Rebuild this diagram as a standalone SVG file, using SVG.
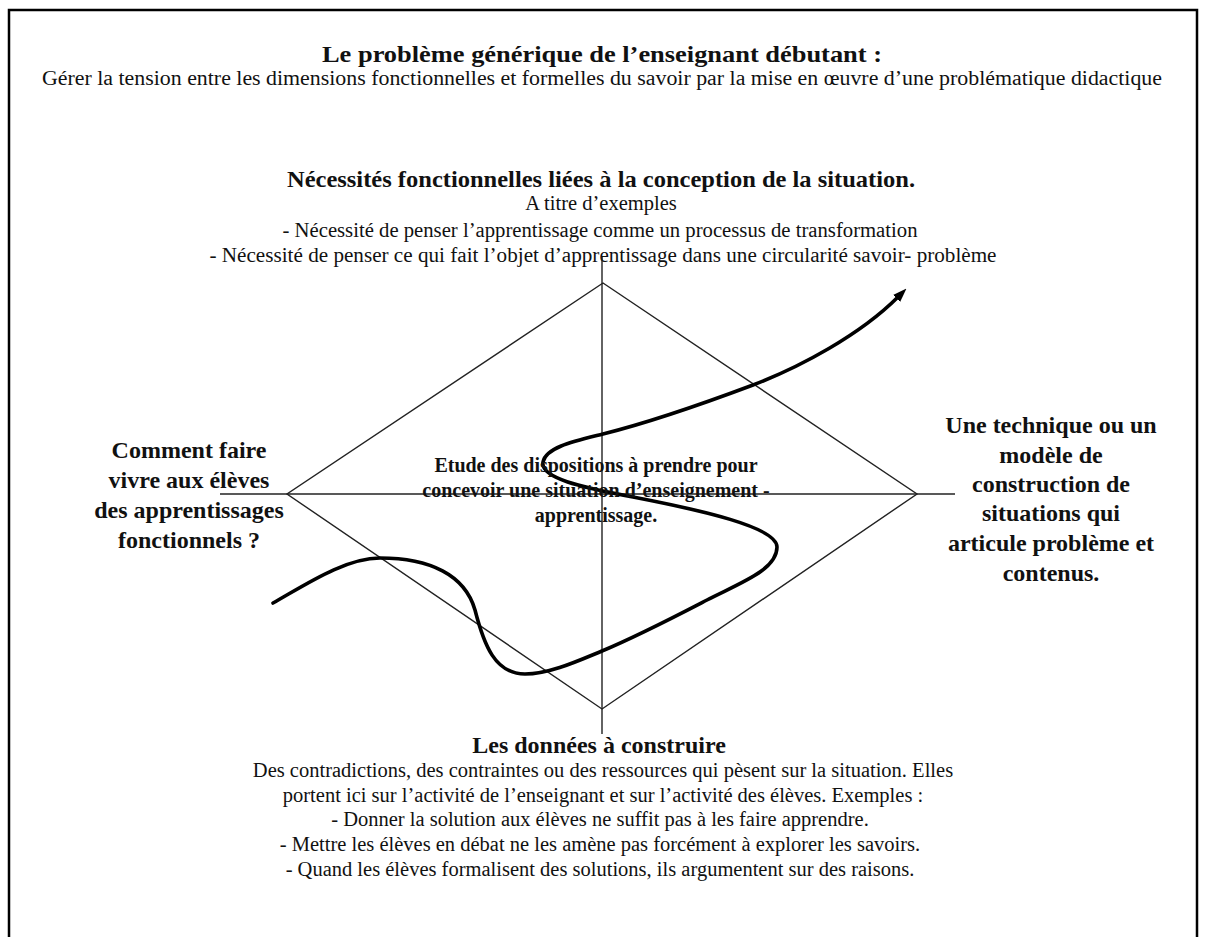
<svg xmlns="http://www.w3.org/2000/svg" width="1206" height="937" viewBox="0 0 1206 937">
<style>
  text { font-family: "Liberation Serif", "Times New Roman", serif; fill: #111; text-anchor: middle; }
  .h { font-weight: bold; font-size: 24px; }
  .r { font-size: 20.5px; }
  .c { font-weight: bold; font-size: 20px; }
  .thin { fill: none; stroke: #222; stroke-width: 1.4; }
  .curve { fill: none; stroke: #000; stroke-width: 3.6; stroke-linecap: round; }
</style>
<defs>
  <marker id="arrow" markerUnits="userSpaceOnUse" viewBox="0 0 14 10" refX="2" refY="5" markerWidth="14" markerHeight="10" orient="auto">
    <path d="M0,0 L14,5 L0,10 z" fill="#000"/>
  </marker>
</defs>
<rect width="1206" height="937" fill="#fff"/>
<path d="M9,940 V10 H1197 V940" fill="none" stroke="#000" stroke-width="2.5"/>

<g id="title">
  <text class="h" x="602" y="62" textLength="560" lengthAdjust="spacingAndGlyphs">Le problème générique de l’enseignant débutant :</text>
  <text class="r" x="602" y="85" textLength="1120" lengthAdjust="spacingAndGlyphs">Gérer la tension entre les dimensions fonctionnelles et formelles du savoir par la mise en œuvre d’une problématique didactique</text>
</g>

<g id="top-node">
  <text class="h" x="601" y="187" textLength="628" lengthAdjust="spacingAndGlyphs">Nécessités fonctionnelles liées à la conception de la situation.</text>
  <text class="r" x="601" y="210">A titre d’exemples</text>
  <text class="r" x="600" y="237" textLength="635" lengthAdjust="spacingAndGlyphs">- Nécessité de penser l’apprentissage comme un processus de transformation</text>
  <text class="r" x="603" y="262" textLength="787" lengthAdjust="spacingAndGlyphs">- Nécessité de penser ce qui fait l’objet d’apprentissage dans une circularité savoir- problème</text>
</g>

<g id="connectors">
  <path class="thin" d="M603,283 L917,494 L602,709 L287,494 Z"/>
  <line class="thin" x1="220" y1="494" x2="955" y2="494"/>
  <line class="thin" x1="602" y1="257" x2="602" y2="734"/>
  <path class="curve" marker-end="url(#arrow)" d="M273,603 C305,585 345,558 380,558 C430,558 465,575 475,610 C484,645 495,674 525,674 C550,674 580,660 602,651 C640,635 680,614 707,600 C740,583 777,570 777,547 C777,527 700,510 633,497 C580,487 540,478 543,462 C546,447 575,441 603,434 C655,421 705,403 753,385 C800,367 860,335 898,297"/>
</g>

<g id="left-node">
  <text class="h" x="189" y="458">Comment faire</text>
  <text class="h" x="189" y="488">vivre aux élèves</text>
  <text class="h" x="189" y="518">des apprentissages</text>
  <text class="h" x="189" y="548">fonctionnels ?</text>
</g>

<g id="right-node">
  <text class="h" x="1051" y="433">Une technique ou un</text>
  <text class="h" x="1051" y="463">modèle de</text>
  <text class="h" x="1051" y="492">construction de</text>
  <text class="h" x="1051" y="521">situations qui</text>
  <text class="h" x="1051" y="551">articule problème et</text>
  <text class="h" x="1051" y="581">contenus.</text>
</g>

<g id="center-node">
  <text class="c" x="596" y="472">Etude des dispositions à prendre pour</text>
  <text class="c" x="596" y="497">concevoir une situation d’enseignement -</text>
  <text class="c" x="596" y="522">apprentissage.</text>
</g>

<g id="bottom-node">
  <text class="h" x="599" y="753">Les données à construire</text>
  <text class="r" x="603" y="777">Des contradictions, des contraintes ou des ressources qui pèsent sur la situation. Elles</text>
  <text class="r" x="603" y="802">portent ici sur l’activité de l’enseignant et sur l’activité des élèves. Exemples :</text>
  <text class="r" x="600" y="826">- Donner la solution aux élèves ne suffit pas à les faire apprendre.</text>
  <text class="r" x="600" y="851">- Mettre les élèves en débat ne les amène pas forcément à explorer les savoirs.</text>
  <text class="r" x="600" y="876">- Quand les élèves formalisent des solutions, ils argumentent sur des raisons.</text>
</g>
</svg>
